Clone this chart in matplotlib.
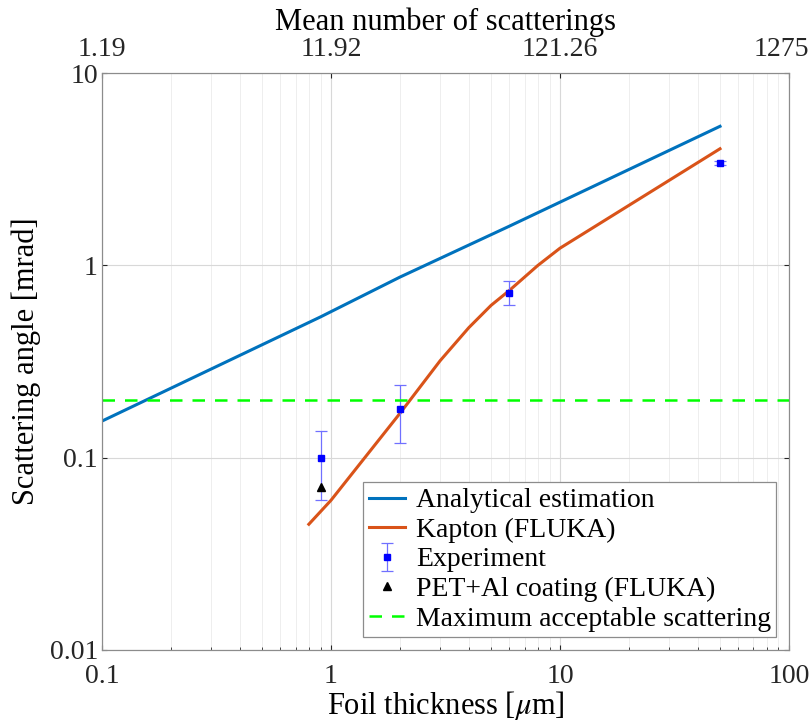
#!/usr/bin/env python
"Scattering angle vs foil thickness, log-log with top axis of scatterings"

import numpy as np
import matplotlib
matplotlib.use('Agg')
import matplotlib.pyplot as plt
from matplotlib.transforms import ScaledTranslation

# analytical estimation
ana_x = [0.1, 0.9, 2, 6, 50]
ana_y = [0.155, 0.54, 0.87, 1.6, 5.3]

# Kapton FLUKA simulation
kap_x = [0.8, 1, 2, 3, 4, 5, 6, 8, 10, 50]
kap_y = [0.045, 0.060, 0.17, 0.32, 0.475, 0.62, 0.74, 1.0, 1.23, 4.05]

# experimental points with asymmetric errors
exp_x = [0.9, 2, 6, 50]
exp_y = [0.10, 0.18, 0.72, 3.40]
exp_lo = [0.060, 0.119, 0.62, 3.32]
exp_hi = [0.138, 0.239, 0.826, 3.48]

# PET + Al coating
pet_x = [0.9]
pet_y = [0.070]

max_scatter = 0.2

top_ticks = [0.1, 1, 10, 100]
top_labels = ['1.19', '11.92', '121.26', '1275']

plt.rcParams['font.family'] = ['Liberation Serif', 'DejaVu Serif']
plt.rcParams['mathtext.fontset'] = 'stix'

fig = plt.figure(figsize=(8.1, 7.26), dpi=100)
ax = fig.add_axes([0.126, 0.105, 0.848, 0.794])

h_ana, = ax.plot(ana_x, ana_y, color='#0072BD', lw=2.2,
                 label='Analytical estimation')
h_kap, = ax.plot(kap_x, kap_y, color='#D95319', lw=2.2,
                 label='Kapton (FLUKA)')
yerr = [np.array(exp_y) - np.array(exp_lo), np.array(exp_hi) - np.array(exp_y)]
h_exp = ax.errorbar(exp_x, exp_y, yerr=yerr, fmt='s', color='#0000FF', ms=5,
                    ecolor='#7070FF', elinewidth=0.9, capsize=4, capthick=0.9,
                    label='Experiment')
h_pet, = ax.plot(pet_x, pet_y, '^', color='k', ms=6, linestyle='',
                 label='PET+Al coating (FLUKA)')
h_max = ax.axhline(max_scatter, color='#00FF00', lw=1.8, ls=(0, (5, 4)),
                   label='Maximum acceptable scattering')

ax.set_xscale('log')
ax.set_yscale('log')
ax.set_xlim(0.1, 100)
ax.set_ylim(0.01, 10)
ax.set_xticks([0.1, 1, 10, 100])
ax.set_xticklabels(['0.1', '1', '10', '100'])
ax.set_yticks([0.01, 0.1, 1, 10])
ax.set_yticklabels(['0.01', '0.1', '1', '10'])
ax.grid(True, which='major', color='#D8D8D8', lw=0.8)
ax.grid(True, which='minor', color='#EBEBEB', lw=0.6)
ax.set_axisbelow(True)
ax.tick_params(which='both', direction='in', labelsize=20, colors='#262626',
               top=False, right=True, pad=3)
ax.tick_params(axis='x', which='both', pad=10)
ax.tick_params(which='minor', length=2.5)
for sp in ax.spines.values():
    sp.set_color('#8C8C8C')
ax.set_xlabel(r'Foil thickness [$\mu$m]', fontsize=22, labelpad=0)
ax.set_ylabel('Scattering angle [mrad]', fontsize=22, labelpad=6)

ax2 = ax.twiny()
ax2.set_xscale('log')
ax2.set_xlim(ax.get_xlim())
ax2.set_xticks(top_ticks)
ax2.set_xticklabels(top_labels)
ax2.minorticks_off()
ax2.tick_params(direction='in', labelsize=20, colors='#262626', pad=8.5)
for sp in ax2.spines.values():
    sp.set_color('#8C8C8C')
ax2.set_xlabel('Mean number of scatterings', fontsize=22, labelpad=5)
# keep the last top label inside the figure
last = ax2.get_xticklabels()[-1]
last.set_transform(last.get_transform()
                   + ScaledTranslation(-0.08, 0, fig.dpi_scale_trans))

leg = ax.legend([h_ana, h_kap, h_exp, h_pet, h_max],
                ['Analytical estimation', 'Kapton (FLUKA)', 'Experiment',
                 'PET+Al coating (FLUKA)', 'Maximum acceptable scattering'],
                loc='lower right', fontsize=20, fancybox=False,
                framealpha=1, edgecolor='#8C8C8C', borderaxespad=0.45,
                handlelength=1.3, handletextpad=0.4, labelspacing=0.15,
                borderpad=0.2)
leg.get_frame().set_linewidth(0.9)

fig.savefig('out.png', dpi=100)
